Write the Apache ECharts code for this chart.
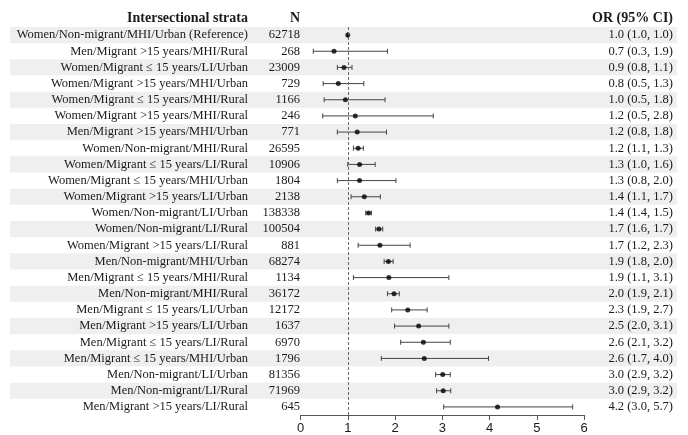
<!DOCTYPE html>
<html>
<head>
<meta charset="utf-8">
<script src="https://cdn.jsdelivr.net/npm/echarts@6/dist/echarts.min.js"></script>
<style>html,body{margin:0;padding:0;background:#fff;}#c{width:688px;height:435px;}</style>
</head>
<body>
<div id="c"></div>
<script>
const strata = [
  'Women/Non-migrant/MHI/Urban (Reference)',
  'Men/Migrant >15 years/MHI/Rural',
  'Women/Migrant \u2264 15 years/LI/Urban',
  'Women/Migrant >15 years/MHI/Urban',
  'Women/Migrant \u2264 15 years/MHI/Rural',
  'Women/Migrant >15 years/MHI/Rural',
  'Men/Migrant >15 years/MHI/Urban',
  'Women/Non-migrant/MHI/Rural',
  'Women/Migrant \u2264 15 years/LI/Rural',
  'Women/Migrant \u2264 15 years/MHI/Urban',
  'Women/Migrant >15 years/LI/Urban',
  'Women/Non-migrant/LI/Urban',
  'Women/Non-migrant/LI/Rural',
  'Women/Migrant >15 years/LI/Rural',
  'Men/Non-migrant/MHI/Urban',
  'Men/Migrant \u2264 15 years/MHI/Rural',
  'Men/Non-migrant/MHI/Rural',
  'Men/Migrant \u2264 15 years/LI/Urban',
  'Men/Migrant >15 years/LI/Urban',
  'Men/Migrant \u2264 15 years/LI/Rural',
  'Men/Migrant \u2264 15 years/MHI/Urban',
  'Men/Non-migrant/LI/Urban',
  'Men/Non-migrant/LI/Rural',
  'Men/Migrant >15 years/LI/Rural'
];
const nValues = ['62718','268','23009','729','1166','246','771','26595','10906','1804','2138','138338','100504','881','68274','1134','36172','12172','1637','6970','1796','81356','71969','645'];
const orLabels = [
  '1.0 (1.0, 1.0)','0.7 (0.3, 1.9)','0.9 (0.8, 1.1)','0.8 (0.5, 1.3)','1.0 (0.5, 1.8)','1.2 (0.5, 2.8)',
  '1.2 (0.8, 1.8)','1.2 (1.1, 1.3)','1.3 (1.0, 1.6)','1.3 (0.8, 2.0)','1.4 (1.1, 1.7)','1.4 (1.4, 1.5)',
  '1.7 (1.6, 1.7)','1.7 (1.2, 2.3)','1.9 (1.8, 2.0)','1.9 (1.1, 3.1)','2.0 (1.9, 2.1)','2.3 (1.9, 2.7)',
  '2.5 (2.0, 3.1)','2.6 (2.1, 3.2)','2.6 (1.7, 4.0)','3.0 (2.9, 3.2)','3.0 (2.9, 3.2)','4.2 (3.0, 5.7)'
];
const orEst  = [1.00,0.71,0.92,0.80,0.95,1.16,1.20,1.22,1.25,1.25,1.35,1.44,1.66,1.68,1.86,1.87,1.98,2.27,2.50,2.60,2.62,3.01,3.02,4.17];
const ciLow  = [1.00,0.27,0.78,0.48,0.50,0.47,0.78,1.12,1.00,0.78,1.07,1.38,1.59,1.22,1.77,1.12,1.84,1.93,1.99,2.12,1.71,2.86,2.88,3.03];
const ciHigh = [1.00,1.84,1.09,1.34,1.79,2.81,1.82,1.33,1.58,2.02,1.69,1.50,1.74,2.32,1.96,3.14,2.09,2.68,3.14,3.17,3.98,3.17,3.18,5.76];

const serif = '"Liberation Serif", "Times New Roman", serif';
const sans = '"Liberation Sans", Arial, sans-serif';
const textColor = '#1a1a1a';
const bodySize = 12.5;
const idx = strata.map((_, i) => i);

const chart = echarts.init(document.getElementById('c'), null, {renderer: 'canvas'});
const gridTop = 27, gridHeight = 388;

chart.setOption({
  animation: false,
  backgroundColor: '#fff',
  grid: [
    {left: 10, right: 11, top: gridTop, height: gridHeight},
    {left: 300.5, right: 104, top: gridTop, height: gridHeight}
  ],
  xAxis: [
    {gridIndex: 0, type: 'value', show: false, min: 0, max: 1},
    {gridIndex: 1, type: 'value', min: 0, max: 6, interval: 1,
      axisLine: {show: true, lineStyle: {color: '#555', width: 1}},
      axisTick: {show: true, length: 5, lineStyle: {color: '#555', width: 1}},
      splitLine: {show: false},
      axisLabel: {color: textColor, fontFamily: sans, fontSize: 13, margin: 7}
    }
  ],
  yAxis: [
    {gridIndex: 0, type: 'category', data: idx, inverse: true,
      axisLine: {show: false}, axisTick: {show: false}, axisLabel: {show: false},
      splitLine: {show: false},
      splitArea: {show: true, interval: 0, areaStyle: {color: ['#efefef', 'rgba(255,255,255,0)']}}
    },
    {gridIndex: 1, type: 'category', data: strata, inverse: true, position: 'left',
      axisLine: {show: false}, axisTick: {show: false}, splitLine: {show: false},
      axisLabel: {interval: 0, margin: 52.5, align: 'right', color: textColor, fontFamily: serif, fontSize: bodySize}
    },
    {gridIndex: 1, type: 'category', data: nValues, inverse: true, position: 'left',
      axisLine: {show: false}, axisTick: {show: false}, splitLine: {show: false},
      axisLabel: {interval: 0, margin: 0.5, align: 'right', color: textColor, fontFamily: serif, fontSize: bodySize}
    },
    {gridIndex: 1, type: 'category', data: orLabels, inverse: true, position: 'right',
      axisLine: {show: false}, axisTick: {show: false}, splitLine: {show: false},
      axisLabel: {interval: 0, margin: 89, align: 'right', color: textColor, fontFamily: serif, fontSize: bodySize}
    }
  ],
  graphic: [
    {type: 'text', x: 248, y: 18, style: {text: 'Intersectional strata', font: 'bold 14px ' + serif, fill: textColor, textAlign: 'right', textVerticalAlign: 'middle'}},
    {type: 'text', x: 300, y: 18, style: {text: 'N', font: 'bold 14px ' + serif, fill: textColor, textAlign: 'right', textVerticalAlign: 'middle'}},
    {type: 'text', x: 673, y: 18, style: {text: 'OR (95% CI)', font: 'bold 14px ' + serif, fill: textColor, textAlign: 'right', textVerticalAlign: 'middle'}}
  ],
  series: [
    {
      type: 'custom', xAxisIndex: 1, yAxisIndex: 1, z: 3,
      data: idx.map(i => [ciLow[i], i, ciHigh[i]]),
      renderItem: function (params, api) {
        const y = api.value(1);
        const p1 = api.coord([api.value(0), y]);
        const p2 = api.coord([api.value(2), y]);
        const h = 2.5;
        const st = {stroke: '#444', lineWidth: 1, fill: null};
        return {type: 'group', children: [
          {type: 'line', shape: {x1: p1[0], y1: p1[1], x2: p2[0], y2: p2[1]}, style: st},
          {type: 'line', shape: {x1: p1[0], y1: p1[1] - h, x2: p1[0], y2: p1[1] + h}, style: st},
          {type: 'line', shape: {x1: p2[0], y1: p2[1] - h, x2: p2[0], y2: p2[1] + h}, style: st}
        ]};
      }
    },
    {
      type: 'scatter', xAxisIndex: 1, yAxisIndex: 1, z: 4,
      symbol: 'circle', symbolSize: 5,
      itemStyle: {color: '#000'},
      data: idx.map(i => [orEst[i], i]),
      markLine: {
        silent: true, symbol: 'none', label: {show: false},
        lineStyle: {type: [3, 2], color: '#666', width: 1},
        data: [{xAxis: 1}]
      }
    }
  ]
});
</script>
</body>
</html>
